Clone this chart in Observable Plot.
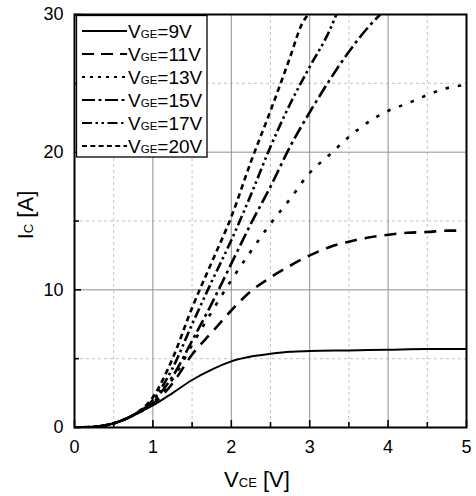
<!DOCTYPE html>
<html>
<head>
<meta charset="utf-8">
<script src="https://cdn.jsdelivr.net/npm/d3@7"></script>
<script src="https://cdn.jsdelivr.net/npm/@observablehq/plot@0.6"></script>
<style>
html,body{margin:0;padding:0;background:#fff;}
</style>
</head>
<body>
<div id="chart"></div>
<script>
// ---- data ----
const seriesLabels = ["9V", "11V", "13V", "15V", "17V", "20V"];

const vce_9  = [0, 0.25, 0.5, 0.75, 1, 1.25, 1.5, 1.75, 2, 2.25, 2.5, 2.75, 3, 3.5, 4, 4.5, 5];
const ic_9   = [0, 0.05, 0.3, 0.9, 1.6, 2.5, 3.45, 4.2, 4.8, 5.15, 5.35, 5.5, 5.55, 5.6, 5.65, 5.7, 5.7];

const vce_11 = [0, 0.25, 0.5, 0.75, 1, 1.25, 1.5, 1.75, 2, 2.25, 2.5, 2.75, 3, 3.25, 3.5, 3.75, 4, 4.25, 4.5, 4.75, 4.9];
const ic_11  = [0, 0.05, 0.3, 0.9, 1.7, 3.2, 5.3, 6.9, 8.5, 9.9, 10.9, 11.75, 12.5, 13.1, 13.5, 13.8, 14.0, 14.15, 14.2, 14.3, 14.3];

const vce_13 = [0, 0.25, 0.5, 0.75, 1, 1.25, 1.5, 1.75, 2, 2.25, 2.5, 2.75, 3, 3.25, 3.5, 3.75, 4, 4.25, 4.5, 4.75, 5];
const ic_13  = [0, 0.05, 0.3, 0.9, 1.8, 3.5, 6.0, 8.4, 10.7, 12.8, 14.8, 16.6, 18.5, 19.8, 21.1, 22.2, 23.0, 23.55, 24.15, 24.65, 24.9];

const vce_15 = [0, 0.25, 0.5, 0.75, 1, 1.25, 1.5, 1.75, 2, 2.25, 2.5, 2.75, 3, 3.25, 3.5, 3.75, 3.9];
const ic_15  = [0, 0.05, 0.3, 0.9, 1.9, 3.7, 6.3, 9.0, 11.9, 14.8, 17.5, 20.4, 22.9, 25.2, 27.3, 29.1, 30];

const vce_17 = [0, 0.25, 0.5, 0.75, 1, 1.25, 1.5, 1.75, 2, 2.25, 2.5, 2.75, 3, 3.25, 3.34];
const ic_17  = [0, 0.05, 0.3, 0.9, 2.0, 4.3, 7.5, 10.6, 13.6, 16.9, 20.4, 23.5, 26.2, 28.8, 30];

const vce_20 = [0, 0.25, 0.5, 0.75, 1, 1.25, 1.5, 1.75, 2, 2.25, 2.5, 2.75, 2.9, 2.98];
const ic_20  = [0, 0.05, 0.3, 0.9, 2.2, 5.0, 8.7, 12.0, 15.3, 19.3, 23.0, 26.9, 29.3, 30];

const xMajorTicks = [0, 1, 2, 3, 4, 5];
const xMinorTicks = [0.5, 1.5, 2.5, 3.5, 4.5];
const yMajorTicks = [0, 10, 20, 30];
const yMinorTicks = [5, 15, 25];

// ---- styles ----
const plotDashes   = [null, "12,8", "3.5,9", "13,4,3,4", "10,3.5,2.5,3.5,2.5,3.5", "5.5,4"];
const legendDashes = [null, "12,7", "3,5", "13,3.5,3,3.5", "10,3.5,2.5,3.5,2.5,3.5", "5,3.3"];
const allX = [vce_9, vce_11, vce_13, vce_15, vce_17, vce_20];
const allY = [ic_9, ic_11, ic_13, ic_15, ic_17, ic_20];

const W = 476, H = 496, mL = 74, mR = 10, mT = 14, mB = 69;
const innerW = W - mL - mR, innerH = H - mT - mB;
const FONT = "'Liberation Sans', Arial, Helvetica, sans-serif";

const lineMarks = allX.map((xs, i) => {
  const rows = xs.map((v, j) => ({x: v, y: allY[i][j]}));
  return Plot.line(rows, {
    x: "x", y: "y", stroke: "black", strokeWidth: i === 0 ? 2 : 2.6,
    strokeDasharray: plotDashes[i] || undefined,
    strokeLinecap: "butt",
    curve: "monotone-x", clip: true
  });
});

const plot = Plot.plot({
  width: W, height: H,
  marginLeft: mL, marginRight: mR, marginTop: mT, marginBottom: mB,
  style: {fontFamily: FONT, fontSize: "18px", color: "black", background: "white", overflow: "visible"},
  x: {domain: [0, 5]},
  y: {domain: [0, 30]},
  marks: [
    Plot.gridX(xMinorTicks, {stroke: "#c4c4c4", strokeOpacity: 1, strokeDasharray: "3,3", strokeWidth: 1}),
    Plot.gridY(yMinorTicks, {stroke: "#c4c4c4", strokeOpacity: 1, strokeDasharray: "3,3", strokeWidth: 1}),
    Plot.gridX(xMajorTicks.slice(1, -1), {stroke: "#8f8f8f", strokeOpacity: 1, strokeWidth: 1}),
    Plot.gridY(yMajorTicks.slice(1, -1), {stroke: "#8f8f8f", strokeOpacity: 1, strokeWidth: 1}),
    ...lineMarks,
    Plot.tickX(xMajorTicks, {x: d => d, insetTop: innerH - 7, stroke: "black", strokeWidth: 1.6}),
    Plot.tickX(xMinorTicks, {x: d => d, insetTop: innerH - 5, stroke: "black", strokeWidth: 1.6}),
    Plot.tickY(yMajorTicks, {y: d => d, insetRight: innerW - 7, stroke: "black", strokeWidth: 1.6}),
    Plot.tickY(yMinorTicks, {y: d => d, insetRight: innerW - 5, stroke: "black", strokeWidth: 1.6}),
    Plot.axisX(xMajorTicks, {tickSize: 0, tickPadding: 13, label: null, fontSize: 18}),
    Plot.axisY(yMajorTicks, {tickSize: 0, tickPadding: 11, label: null, fontSize: 18}),
    Plot.frame({stroke: "black", strokeWidth: 2})
  ]
});

document.getElementById("chart").appendChild(plot);

// ---- axis titles (with small subscript-like letters) and legend ----
const svg = d3.select(plot);

function richText(g, parts) {
  parts.forEach(([t, size]) => {
    g.append("tspan").attr("font-size", size).style("white-space", "pre").text(t);
  });
}

const xt = svg.append("text")
  .attr("x", 257).attr("y", 487)
  .attr("text-anchor", "middle").attr("fill", "black").attr("font-family", FONT);
richText(xt, [["V", 22], ["CE", 13], [" [V]", 22]]);

const yt = svg.append("text")
  .attr("transform", "translate(33,215) rotate(-90)")
  .attr("text-anchor", "middle").attr("fill", "black").attr("font-family", FONT);
richText(yt, [["I", 22], ["C", 13], [" [A]", 22]]);

const lg = svg.append("g");
lg.append("rect")
  .attr("x", 76.5).attr("y", 15.5).attr("width", 130.5).attr("height", 141.5)
  .attr("fill", "white").attr("stroke", "black").attr("stroke-width", 1.3);
seriesLabels.forEach((lab, i) => {
  const cy = 31 + i * 23;
  lg.append("line")
    .attr("x1", 82).attr("x2", 127).attr("y1", cy).attr("y2", cy)
    .attr("stroke", "black").attr("stroke-width", 2.2)
    .attr("stroke-dasharray", legendDashes[i]);
  const t = lg.append("text").attr("x", 128).attr("y", cy + 7)
    .attr("text-anchor", "start")
    .attr("fill", "black").attr("font-family", FONT);
  richText(t, [["V", 19], ["GE", 11.5], ["=" + lab, 19]]);
});
</script>
</body>
</html>
